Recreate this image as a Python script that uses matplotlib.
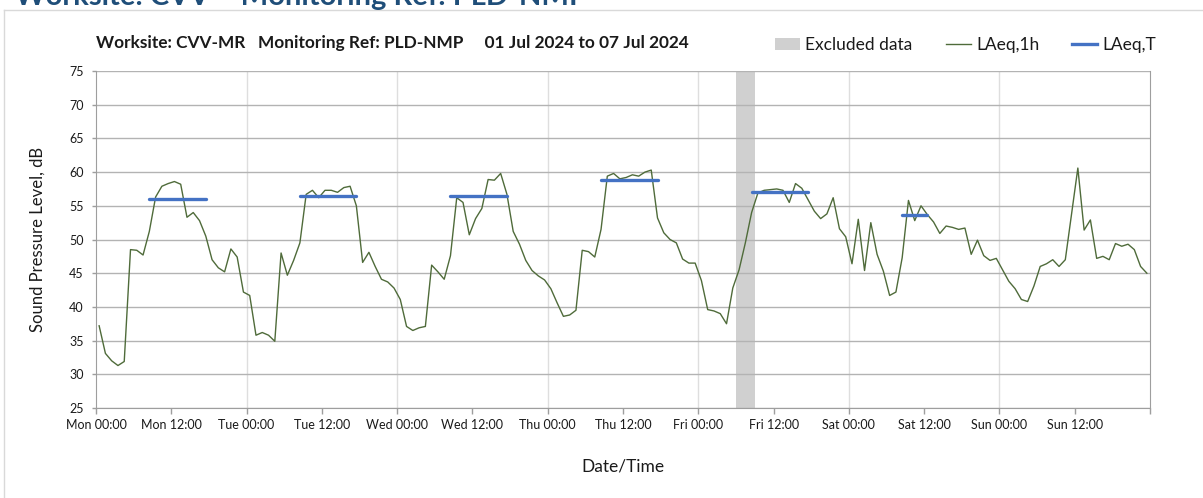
import numpy as np
import pandas as pd
import matplotlib
matplotlib.use('Agg')
import matplotlib.pyplot as plt
from matplotlib.lines import Line2D
from matplotlib.patches import Patch

plt.rcParams['font.family'] = ['Lato', 'DejaVu Sans']

# hourly LAeq,1h values, plotted at mid-hour
times = pd.date_range('2024-07-01 00:30', periods=168, freq='h')
laeq_1h = [
    # Mon
    37.2, 33.1, 32.0, 31.3, 31.9, 48.5, 48.4, 47.7, 51.2, 56.3, 57.9, 58.3,
    58.6, 58.2, 53.3, 54.0, 52.8, 50.5, 47.0, 45.8, 45.2, 48.6, 47.4, 42.2,
    # Tue
    41.7, 35.8, 36.2, 35.8, 34.9, 48.0, 44.7, 46.9, 49.5, 56.7, 57.3, 56.2,
    57.3, 57.3, 57.0, 57.7, 57.9, 55.0, 46.6, 48.1, 46.0, 44.1, 43.7, 42.8,
    # Wed
    41.1, 37.1, 36.5, 36.9, 37.1, 46.2, 45.2, 44.1, 47.6, 56.2, 55.5, 50.7,
    53.1, 54.6, 58.9, 58.8, 59.8, 56.7, 51.2, 49.3, 46.9, 45.4, 44.6, 44.0,
    # Thu
    42.7, 40.6, 38.6, 38.8, 39.5, 48.4, 48.2, 47.4, 51.5, 59.4, 59.8, 59.0,
    59.2, 59.6, 59.4, 60.0, 60.3, 53.2, 51.0, 50.0, 49.5, 47.1, 46.5, 46.5,
    # Fri
    43.9, 39.6, 39.4, 39.0, 37.5, 42.8, 45.5, 49.5, 54.0, 56.9, 57.3, 57.4,
    57.5, 57.3, 55.5, 58.3, 57.6, 55.9, 54.2, 53.1, 53.8, 56.2, 51.6, 50.4,
    # Sat
    46.4, 53.0, 45.4, 52.5, 47.8, 45.3, 41.7, 42.2, 47.3, 55.8, 52.8, 55.0,
    53.7, 52.6, 50.9, 52.0, 51.8, 51.5, 51.7, 47.8, 49.9, 47.6, 46.9, 47.2,
    # Sun
    45.5, 43.8, 42.7, 41.1, 40.8, 43.1, 46.0, 46.4, 47.0, 46.0, 47.0, 53.8,
    60.6, 51.4, 52.9, 47.2, 47.5, 47.0, 49.4, 49.0, 49.3, 48.5, 46.0, 45.0,
]

# LAeq,T over working periods
period_start = ['2024-07-01 08:30', '2024-07-02 08:30', '2024-07-03 08:30',
                '2024-07-04 08:30', '2024-07-05 08:30', '2024-07-06 08:30']
period_end = ['2024-07-01 17:30', '2024-07-02 17:30', '2024-07-03 17:30',
              '2024-07-04 17:30', '2024-07-05 17:30', '2024-07-06 12:30']
laeq_t = [56.0, 56.5, 56.4, 58.8, 57.1, 53.7]

excl_start = '2024-07-05 06:00'
excl_end = '2024-07-05 09:00'

tick_labels = ['Mon 00:00', 'Mon 12:00', 'Tue 00:00', 'Tue 12:00', 'Wed 00:00',
               'Wed 12:00', 'Thu 00:00', 'Thu 12:00', 'Fri 00:00', 'Fri 12:00',
               'Sat 00:00', 'Sat 12:00', 'Sun 00:00', 'Sun 12:00']

green = '#4f6b3a'
blue = '#4472c4'
txt = '#1a1a1a'

fig = plt.figure(figsize=(12.03, 4.98), dpi=100)
ax = fig.add_axes([96/1203, 1-408/498, 1054/1203, 337/498])

# outer chart frame (partly outside the picture)
fig.add_artist(Line2D([4/1203, 4/1203], [0, 1-10/498], transform=fig.transFigure,
                      color='#d9d9d9', lw=1))
fig.add_artist(Line2D([4/1203, 1], [1-10/498, 1-10/498], transform=fig.transFigure,
                      color='#d9d9d9', lw=1))

# page heading, cut by the top edge as in the source screenshot
fig.text(15/1203, 1-5/498, 'Worksite: CVV \u2013 Monitoring Ref: PLD-NMP',
         fontsize=21, fontweight='bold', color='#1f4e79', va='baseline', ha='left')

t0 = pd.Timestamp('2024-07-01 00:00')
t1 = pd.Timestamp('2024-07-08 00:00')
ax.set_xlim(t0, t1)
ax.set_ylim(25, 75)
ax.set_yticks(np.arange(25, 76, 5))

# grid
ax.grid(axis='y', color='#b3b3b3', lw=1, zorder=0)
for d in pd.date_range('2024-07-02', periods=6, freq='D'):
    ax.axvline(d, color='#dedede', lw=1, zorder=0)

ax.axvspan(pd.Timestamp(excl_start), pd.Timestamp(excl_end), color='#d0d0d0',
           lw=0, zorder=1)
ax.plot(times, laeq_1h, color=green, lw=1.0, zorder=3)
for s, e, v in zip(period_start, period_end, laeq_t):
    ax.plot([pd.Timestamp(s), pd.Timestamp(e)], [v, v], color=blue, lw=2.4,
            solid_capstyle='round', zorder=4)

xt = pd.date_range('2024-07-01', periods=15, freq='12h')
ax.set_xticks(xt)
ax.set_xticklabels(tick_labels + [''])

for sp in ['left', 'bottom', 'right']:
    ax.spines[sp].set_color('#9e9e9e')
ax.spines['top'].set_visible(False)
ax.tick_params(axis='x', length=4, width=1, color='#9e9e9e', pad=4,
               labelsize=9, labelcolor=txt)
ax.tick_params(axis='y', length=3, width=1, color='#9e9e9e', pad=6,
               labelsize=9, labelcolor=txt)

ax.set_ylabel('Sound Pressure Level, dB', fontsize=12, color=txt, labelpad=17)
ax.set_xlabel('Date/Time', fontsize=12.5, color=txt, labelpad=20)

fig.text(96/1203, 1-43/498,
         'Worksite: CVV-MR   Monitoring Ref: PLD-NMP     01 Jul 2024 to 07 Jul 2024',
         fontsize=12.4, fontweight='bold', color=txt, va='center', ha='left')

handles = [Patch(facecolor='#d0d0d0', edgecolor='none'),
           Line2D([], [], color=green, lw=1.0),
           Line2D([], [], color=blue, lw=2.4)]
fig.legend(handles, ['Excluded data', 'LAeq,1h', 'LAeq,T'], ncol=3,
           loc='center left', bbox_to_anchor=(768/1203, 1-45/498),
           frameon=False, fontsize=12.5, handlelength=1.45, handleheight=0.7,
           columnspacing=1.9, handletextpad=0.3, labelcolor=txt,
           borderaxespad=0)

fig.savefig('out.png', dpi=100)
